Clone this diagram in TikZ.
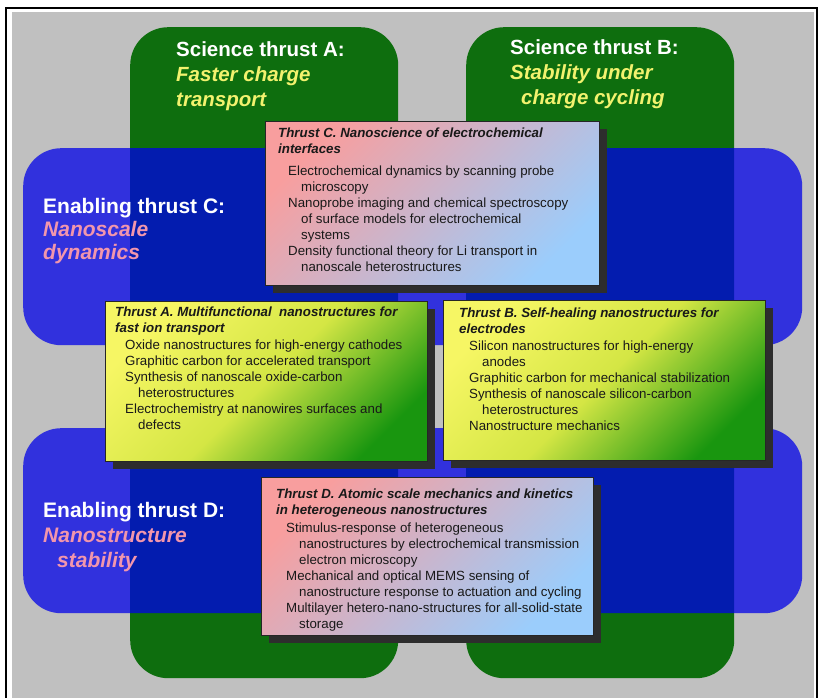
\documentclass[tikz,border=0pt]{standalone}
\usepackage{fontspec}
\setmainfont{Liberation Sans}
\usetikzlibrary{shadows}

\definecolor{thrustgreen}{RGB}{14,110,14}
\definecolor{thrustblue}{RGB}{0,0,232}
\definecolor{bggray}{RGB}{192,192,192}
\definecolor{labelyellow}{RGB}{242,242,110}
\definecolor{labelpink}{RGB}{242,150,172}
\definecolor{shadowgray}{RGB}{45,45,45}
\definecolor{pinkshade}{RGB}{248,158,158}
\definecolor{blueshade}{RGB}{155,205,252}
\definecolor{yellowshade}{RGB}{246,246,100}
\definecolor{midshade}{RGB}{212,230,68}
\definecolor{greenshade}{RGB}{25,150,15}
\definecolor{boxtextcol}{RGB}{25,25,25}

\newcommand{\itm}{\hspace*{10pt}}
\newcommand{\cnt}{\hspace*{23pt}}

\begin{document}
\begin{tikzpicture}[x=1pt, y=-1pt,
  science/.style={fill=thrustgreen, rounded corners=38pt, anchor=north west, inner sep=0pt, minimum width=268pt, minimum height=651pt},
  enabling/.style={fill=thrustblue, fill opacity=0.74, rounded corners=38pt, anchor=north west, inner sep=0pt, minimum width=779pt},
  biglabel/.style={anchor=base west, align=left, inner sep=0pt, text=white, font=\fontsize{20.5}{25}\selectfont\bfseries},
  projbox/.style={draw=black!85, line width=0.8pt, anchor=north west, inner sep=0pt,
    general shadow={fill=shadowgray, shadow xshift=8pt, shadow yshift=-8pt}},
  pinkbox/.style={projbox, top color=pinkshade, bottom color=blueshade, shading angle=45},
  yellowbox/.style={projbox, top color=yellowshade, bottom color=greenshade, middle color=midshade, shading angle=45},
  boxtext/.style={anchor=north west, align=left, inner sep=0pt, text=boxtextcol, font=\fontsize{13.3}{16}\selectfont}
]
\useasboundingbox (0,0) rectangle (820,698);
% Background
\fill[bggray] (12,12) rectangle (814,698);
\draw[line width=2.5pt] (6,698) -- (6,8) -- (817,8) -- (817,698);
% Science thrusts
\node[science] (SciA) at (130,27) {};
\node[science] (SciB) at (466,27) {};
% Enabling thrusts
\node[enabling, minimum height=197pt] (EnC) at (23,148) {};
\node[enabling, minimum height=185pt] (EnD) at (23,428) {};
% Labels (anchored at the baseline of their last line)
\node[biglabel] (SciAlabel) at (176,107) {Science thrust A:\\
  {\color{labelyellow}\itshape Faster charge}\\
  {\color{labelyellow}\itshape transport}};
\node[biglabel] (SciBlabel) at (510,105) {Science thrust B:\\
  {\color{labelyellow}\itshape Stability under}\\
  {\color{labelyellow}\itshape \hspace*{11pt}charge cycling}};
\node[biglabel, font=\fontsize{21}{23}\selectfont\bfseries] (EnClabel) at (43,259) {Enabling thrust C:\\
  {\color{labelpink}\itshape Nanoscale}\\
  {\color{labelpink}\itshape dynamics}};
\node[biglabel, font=\fontsize{21}{25}\selectfont\bfseries] (EnDlabel) at (43,567) {Enabling thrust D:\\
  {\color{labelpink}\itshape Nanostructure}\\
  {\color{labelpink}\itshape \hspace*{14pt}stability}};
% Thrust boxes
\node[pinkbox, minimum width=334pt, minimum height=164pt] (BoxC) at (265,121) {};
\node[boxtext] (BoxCtext) at (278,128) {%
  \textbf{\textit{Thrust C. Nanoscience of electrochemical}}\\
  \textbf{\textit{interfaces}}\\[6pt]
  \itm Electrochemical dynamics by scanning probe\\
  \cnt microscopy\\
  \itm Nanoprobe imaging and chemical spectroscopy\\
  \cnt of surface models for electrochemical\\
  \cnt systems\\
  \itm Density functional theory for Li transport in\\
  \cnt nanoscale heterostructures};
\node[yellowbox, minimum width=322pt, minimum height=160pt] (BoxA) at (105,301) {};
\node[boxtext] (BoxAtext) at (115,307) {%
  \textbf{\textit{Thrust A. Multifunctional\ \ nanostructures for}}\\
  \textbf{\textit{fast ion transport}}\\[1pt]
  \itm Oxide nanostructures for high-energy cathodes\\
  \itm Graphitic carbon for accelerated transport\\
  \itm Synthesis of nanoscale oxide-carbon\\
  \cnt heterostructures\\
  \itm Electrochemistry at nanowires surfaces and\\
  \cnt defects};
\node[yellowbox, minimum width=322pt, minimum height=160pt] (BoxB) at (443,300) {};
\node[boxtext] (BoxBtext) at (459,308) {%
  \textbf{\textit{Thrust B. Self-healing nanostructures for}}\\
  \textbf{\textit{electrodes}}\\[1pt]
  \itm Silicon nanostructures for high-energy\\
  \cnt anodes\\
  \itm Graphitic carbon for mechanical stabilization\\
  \itm Synthesis of nanoscale silicon-carbon\\
  \cnt heterostructures\\
  \itm Nanostructure mechanics};
\node[pinkbox, minimum width=332pt, minimum height=158pt] (BoxD) at (261,477) {};
\node[boxtext] (BoxDtext) at (276,489) {%
  \textbf{\textit{Thrust D. Atomic scale mechanics and kinetics}}\\
  \textbf{\textit{in heterogeneous nanostructures}}\\[2pt]
  \itm Stimulus-response of heterogeneous\\
  \cnt nanostructures by electrochemical transmission\\
  \cnt electron microscopy\\
  \itm Mechanical and optical MEMS sensing of\\
  \cnt nanostructure response to actuation and cycling\\
  \itm Multilayer hetero-nano-structures for all-solid-state\\
  \cnt storage};
\end{tikzpicture}
\end{document}
